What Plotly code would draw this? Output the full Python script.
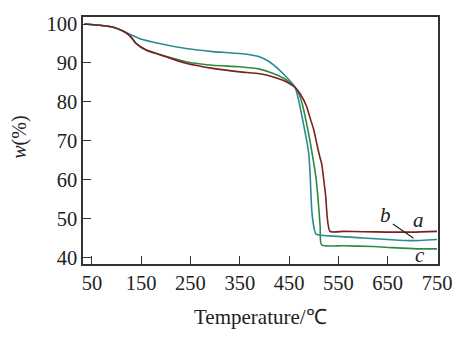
import plotly.graph_objects as go

# ---- data ----
temp_a = [35, 70, 95, 116, 129, 139.5, 160, 200, 241, 295, 350, 390, 418, 440, 462,
          475, 485, 492, 500, 506, 512, 516, 524, 533, 560, 600, 650, 700, 750]
w_a = [100, 99.6, 99.1, 98.0, 96.7, 95.0, 93.3, 91.6, 89.9, 88.6, 87.7, 87.2, 86.4, 85.4, 83.7,
       81.5, 79.0, 76.1, 72.8, 69.3, 66.0, 64.1, 56.0, 46.7, 46.7, 46.6, 46.5, 46.5, 46.7]

temp_b = [35, 70, 95, 116, 146, 187, 241, 295, 350, 390, 410, 431, 445, 462,
          470, 479, 485, 489, 492, 496, 500, 504.5, 550, 600, 650, 696, 750]
w_b = [100, 99.6, 99.1, 98.0, 96.3, 95.0, 93.7, 92.9, 92.4, 91.6, 90.3, 88.1, 86.3, 83.8,
       80.0, 74.4, 70.5, 67.5, 63.0, 52.1, 48.0, 46.0, 45.4, 45.0, 44.6, 44.3, 44.6]

temp_c = [35, 70, 95, 116, 129, 139.5, 160, 200, 241, 295, 350, 390, 418, 440, 458, 470,
          478, 485.5, 492, 499, 504, 509, 513, 516, 560, 621, 660, 709, 750]
w_c = [100, 99.6, 99.1, 98.0, 96.7, 95.0, 93.3, 91.7, 90.3, 89.4, 89.0, 88.4, 87.3, 86.0, 84.3, 82.0,
       78.8, 74.4, 70.2, 65.0, 61.0, 54.6, 48.0, 43.2, 43.0, 42.8, 42.5, 42.2, 42.2]

curve_labels = ["a", "b", "c"]
label_x = [712, 645, 716]
label_y = [49.5, 50.8, 40.5]
leader_x = [660.5, 702.4]
leader_y = [48.6, 44.9]

x_ticks = [50, 150, 250, 350, 450, 550, 650, 750]
y_ticks = [40, 50, 60, 70, 80, 90, 100]

col_a = "#7d1f1f"
col_b = "#2b8b95"
col_c = "#2f8a3f"
FONT = "Liberation Serif"

fig = go.Figure()
for tx, wy, col in [(temp_c, w_c, col_c), (temp_b, w_b, col_b), (temp_a, w_a, col_a)]:
    fig.add_trace(go.Scatter(x=tx, y=wy, mode="lines",
                             line=dict(color=col, width=1.6, shape="spline", smoothing=0.6)))
fig.add_trace(go.Scatter(x=leader_x, y=leader_y, mode="lines", line=dict(color="#222", width=1.2)))

for t, xx, yy in zip(curve_labels, label_x, label_y):
    fig.add_annotation(x=xx, y=yy, text=f"<i>{t}</i>", showarrow=False,
                       font=dict(family=FONT, size=21, color="#222"))

fig.add_annotation(xref="paper", yref="paper", x=0.5, y=-0.216, xanchor="center", yanchor="middle",
                   text="Temperature/℃", showarrow=False,
                   font=dict(family=FONT, size=21, color="#222"))
fig.add_annotation(xref="paper", yref="paper", x=-0.181, y=0.514, xanchor="center", yanchor="middle",
                   text="<i>w</i>(%)", textangle=-90, showarrow=False,
                   font=dict(family=FONT, size=20, color="#222"))

axis_common = dict(showline=True, mirror=True, linecolor="#333", linewidth=1.5,
                   ticks="inside", ticklen=8, tickwidth=1.3, tickcolor="#333",
                   showgrid=False, zeroline=False,
                   tickfont=dict(family=FONT, size=20.5, color="#222"))

fig.update_layout(
    width=473, height=338,
    margin=dict(l=83, r=35, t=17, b=74),
    paper_bgcolor="white", plot_bgcolor="white",
    showlegend=False,
    xaxis=dict(range=[32, 752], tickvals=x_ticks, **axis_common),
    yaxis=dict(range=[38.3, 101.8], tickvals=y_ticks, **axis_common),
)

fig.write_html("out.html")
